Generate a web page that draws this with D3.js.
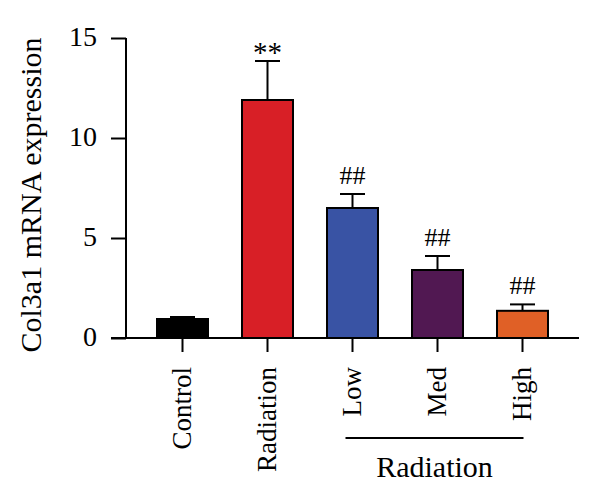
<!DOCTYPE html>
<html>
<head>
<meta charset="utf-8">
<script src="https://cdn.jsdelivr.net/npm/d3@7"></script>
<style>
  body { margin: 0; background: #fff; }
  svg { display: block; font-family: "Liberation Serif", "DejaVu Serif", serif; }
</style>
</head>
<body>
<svg width="600" height="498"></svg>
<script>
// данные
const groups = ["Control", "Radiation", "Low", "Med", "High"];
const means = [0.95, 11.9, 6.5, 3.4, 1.36];
const errors = [0.1, 1.95, 0.7, 0.7, 0.32];
const marks = ["", "**", "##", "##", "##"];
const colors = ["#000000", "#d81f26", "#3953a4", "#511852", "#e06026"];
const yTicks = [0, 5, 10, 15];

const svg = d3.select("svg");

const area = { left: 126, top: 38, bottom: 338, right: 579 };

const scX = d3.scaleBand()
  .domain(groups)
  .range([123, 582])
  .paddingInner(0.4)
  .paddingOuter(0.4);

const scY = d3.scaleLinear()
  .domain([0, 15])
  .range([area.bottom, area.top]);

// ось Y
const axisY = svg.append("g")
  .attr("transform", `translate(${area.left},0)`)
  .call(d3.axisLeft(scY).tickValues(yTicks).tickSize(15).tickPadding(14));
axisY.select(".domain").attr("d", `M0,${area.bottom}V${area.top}`);
axisY.selectAll("line, path").attr("stroke", "#000").attr("stroke-width", 2);
axisY.selectAll("text")
  .attr("font-family", "Liberation Serif, serif")
  .attr("font-size", 28)
  .attr("dy", "0.28em")
  .attr("fill", "#000");

// подпись оси Y
svg.append("text")
  .attr("transform", "translate(41,195) rotate(-90)")
  .attr("text-anchor", "middle")
  .attr("font-size", 30)
  .text("Col3a1 mRNA expression");

// столбцы
const bars = svg.append("g");
groups.forEach((g, i) => {
  const cx = scX(g) + scX.bandwidth() / 2;
  bars.append("rect")
    .attr("x", scX(g))
    .attr("y", scY(means[i]))
    .attr("width", scX.bandwidth())
    .attr("height", scY(0) - scY(means[i]))
    .attr("fill", colors[i])
    .attr("stroke", "#000")
    .attr("stroke-width", 2);

  // планка погрешности
  const top = scY(means[i] + errors[i]);
  bars.append("line")
    .attr("x1", cx).attr("x2", cx)
    .attr("y1", scY(means[i])).attr("y2", top)
    .attr("stroke", "#000").attr("stroke-width", 2);
  bars.append("line")
    .attr("x1", cx - 12.5).attr("x2", cx + 12.5)
    .attr("y1", top).attr("y2", top)
    .attr("stroke", "#000").attr("stroke-width", 2);

  if (marks[i]) {
    const star = marks[i] === "**";
    bars.append("text")
      .attr("x", cx)
      .attr("y", top - (star ? -1 : 10))
      .attr("text-anchor", "middle")
      .attr("font-size", star ? 29 : 26)
      .text(marks[i]);
  }
});

// ось X
const axisX = svg.append("g")
  .attr("transform", `translate(0,${area.bottom})`)
  .call(d3.axisBottom(scX).tickSize(14).tickPadding(6));
axisX.select(".domain").attr("d", "M111,0H579");
axisX.selectAll("line, path").attr("stroke", "#000").attr("stroke-width", 2);
axisX.selectAll("text")
  .attr("font-family", "Liberation Serif, serif")
  .attr("font-size", 27)
  .attr("fill", "#000")
  .attr("text-anchor", "end")
  .attr("transform", "rotate(-90)")
  .attr("x", -29)
  .attr("y", 0)
  .attr("dy", "0.3em");

// группа Radiation
const sub = groups.slice(2);
const x1 = scX(sub[0]) + scX.bandwidth() / 2 - 7;
const x2 = scX(sub[sub.length - 1]) + scX.bandwidth() / 2 + 1;
svg.append("line")
  .attr("x1", x1).attr("x2", x2)
  .attr("y1", 438).attr("y2", 438)
  .attr("stroke", "#000").attr("stroke-width", 2);
svg.append("text")
  .attr("x", (x1 + x2) / 2)
  .attr("y", 477)
  .attr("text-anchor", "middle")
  .attr("font-size", 30)
  .text("Radiation");
</script>
</body>
</html>
